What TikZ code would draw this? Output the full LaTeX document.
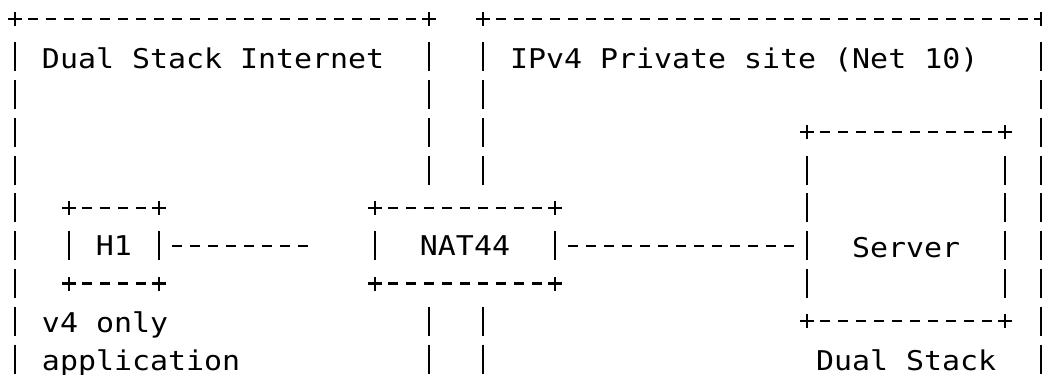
\documentclass[tikz,border=0pt]{standalone}
\usepackage{fontspec}
\newfontfamily\asciifont[FakeStretch=1.1]{DejaVu Sans Mono}

\begin{document}
\begin{tikzpicture}[line join=round,x=18pt,y=-37.8pt]
\tikzset{every node/.style={font=\asciifont\fontsize{27.2}{32}\selectfont,inner sep=0pt,outer sep=0pt}}
\tikzset{lbl/.style={anchor=base west},
  hline/.style={line width=2.2pt,dash pattern=on 10pt off 8pt,dash phase=14pt,shorten <=9pt,shorten >=9pt},
  vline/.style={line width=2.2pt,dash pattern=on 29pt off 8.8pt,dash phase=33.4pt,shorten <=18.9pt,shorten >=18.9pt},
  plus/.style={line width=2.2pt}}
\useasboundingbox (-0.8333,-0.5) rectangle (57.0556,9.4206);
\clip (-0.8333,-0.5) rectangle (57.0556,9.4206);
% the two sites
\coordinate (inetNW) at (0,0);
\coordinate (inetNE) at (23,0);
\coordinate (siteNW) at (26,0);
\coordinate (siteNE) at (57,0);
\node[lbl] (inet) at (1.5,1.3) {Dual Stack Internet};
\node[lbl] (site) at (27.5,1.3) {IPv4 Private site (Net 10)};
% hosts
\node[minimum width=90pt,minimum height=75.6pt] (h1) at (5.5,6) {H1};
\node[minimum width=180pt,minimum height=75.6pt] (nat) at (25,6) {NAT44};
\node[minimum width=198pt,minimum height=189pt] (srv) at (49.5,5.5) {};
\node[lbl] (srvname) at (46.5,6.3) {Server};
\node[lbl] (v4) at (1.5,8.3) {v4 only};
\node[lbl] (app) at (1.5,9.3) {application};
\node[lbl] (dual) at (44.5,9.3) {Dual Stack};
\coordinate (h1end) at (17,6);
% borders
\draw[hline] (inetNW) -- (inetNE);
\draw[hline] (siteNW) -- (siteNE);
\draw[vline] (inetNW) -- ++(0,11);
\draw[vline] (siteNE) -- ++(0,11);
\draw[vline] (inetNE) -- (inetNE |- nat.north);
\draw[vline] (inetNE |- nat.south) -- ++(0,4);
\draw[vline] (siteNW) -- (siteNW |- nat.north);
\draw[vline] (siteNW |- nat.south) -- ++(0,4);
\foreach \p in {inetNW,inetNE,siteNW,siteNE}
  \draw[plus] (\p) +(-7pt,0) -- +(7pt,0) +(0,-7pt) -- +(0,7pt);
\foreach \n in {h1,nat,srv}{
  \draw[hline] (\n.north west) -- (\n.north east);
  \draw[hline] (\n.south west) -- (\n.south east);
  \draw[vline] (\n.north west) -- (\n.south west);
  \draw[vline] (\n.north east) -- (\n.south east);
  \foreach \c in {north west,north east,south west,south east}
    \draw[plus] (\n.\c) +(-7pt,0) -- +(7pt,0) +(0,-7pt) -- +(0,7pt);
}
% links
\draw[hline] (h1.east) -- (h1end);
\draw[hline] (nat.east) -- (nat.east -| srv.west);
\end{tikzpicture}
\end{document}
